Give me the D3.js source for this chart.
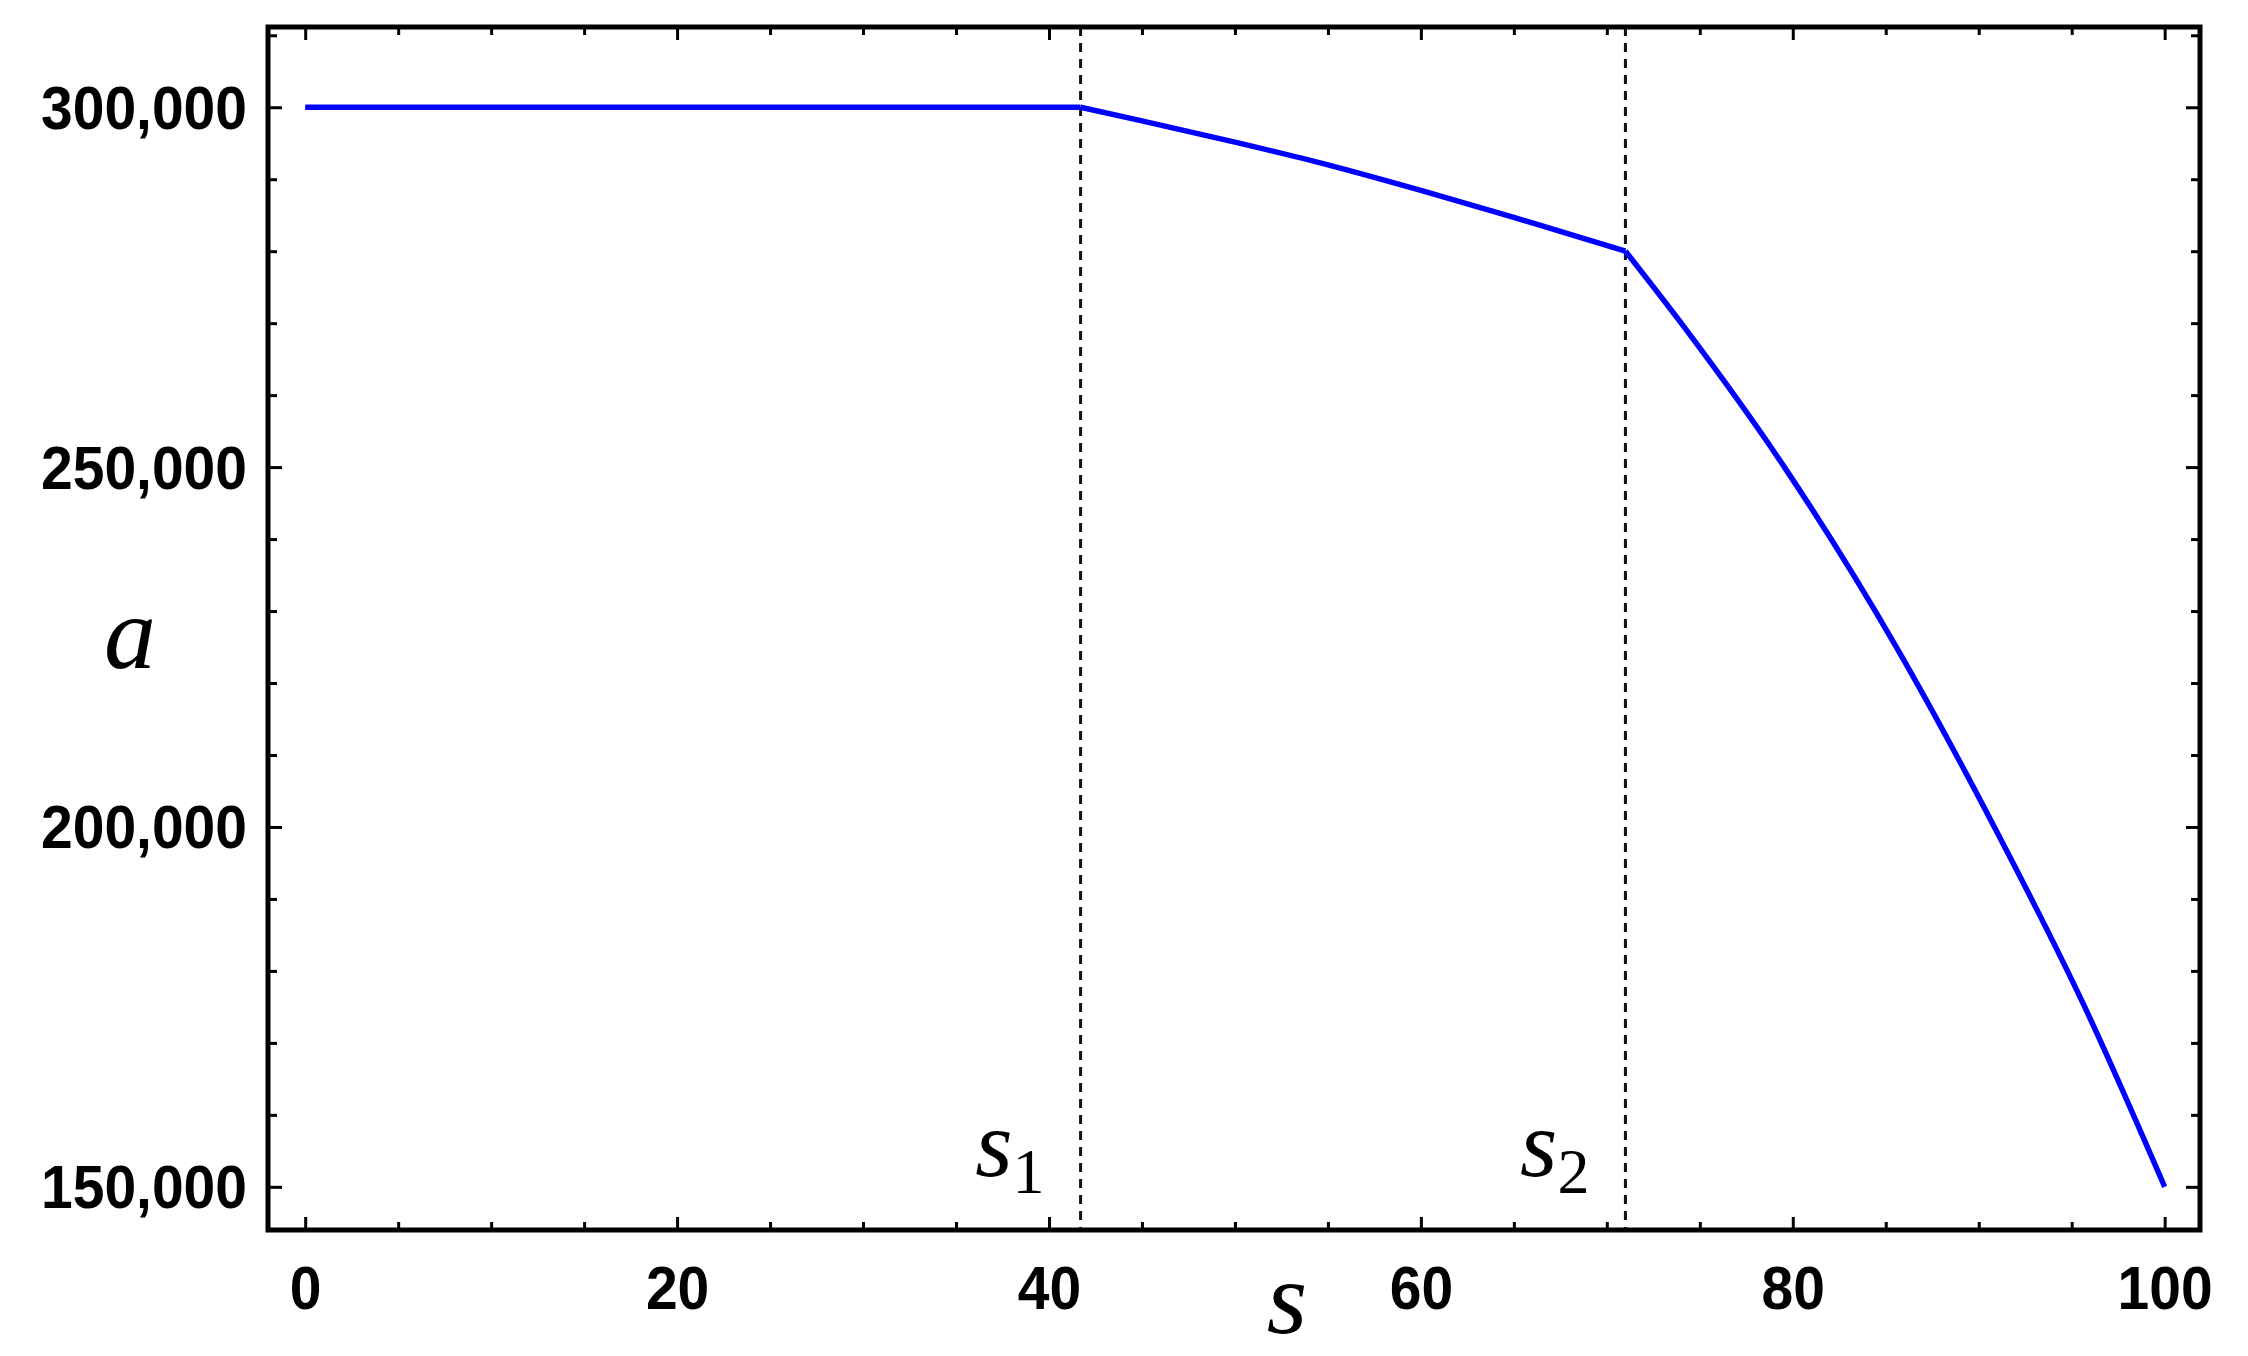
<!DOCTYPE html>
<html>
<head>
<meta charset="utf-8">
<script src="https://cdn.jsdelivr.net/npm/d3@7"></script>
<style>
  html, body { margin: 0; padding: 0; background: #ffffff; }
  svg { display: block; }
</style>
</head>
<body>
<div id="chart"></div>
<script>
// ---------- data ----------
const sFlat = [0, 41.7];
const aFlat = [300000, 300000];
const sMid  = [41.7, 45, 50, 55, 60, 65, 71];
const aMid  = [300000, 298100, 295150, 292000, 288450, 284700, 280000];
const sHigh = [71, 74, 79.55, 85.57, 90.84, 95.7, 100];
const aHigh = [280000, 270000, 250000, 225000, 200000, 175000, 150000];
const thresholds = [41.7, 71];
const thresholdLabels = ["1", "2"];
const xTicks = [0, 20, 40, 60, 80, 100];
const xTickLabels = ["0", "20", "40", "60", "80", "100"];
const yTicks = [150000, 200000, 250000, 300000];
const yTickLabels = ["150,000", "200,000", "250,000", "300,000"];
const xMinor = [5,10,15,25,30,35,45,50,55,65,70,75,85,90,95];
const yMinor = [160000,170000,180000,190000,210000,220000,230000,240000,260000,270000,280000,290000,310000];

// ---------- layout ----------
const W = 2248, H = 1356;
const L = 268, R = 2200, T = 27, B = 1230;

const svg = d3.select("#chart").append("svg")
  .attr("width", W).attr("height", H)
  .attr("viewBox", `0 0 ${W} ${H}`);

const x = d3.scaleLinear().domain([-2, 101.9]).range([L, R]);
const y = d3.scaleLinear().domain([144000, 311150]).range([B, T]);

const tickFont = "'Liberation Sans', Arial, sans-serif";
const serif = "'Liberation Serif', 'Times New Roman', serif";

function styleAxis(g) {
  g.select(".domain").remove();
  g.selectAll(".tick line").attr("stroke", "#000").attr("stroke-width", 3);
  g.selectAll(".tick text")
    .attr("fill", "#000")
    .style("font-family", tickFont)
    .style("font-weight", "bold")
    .style("font-size", "57px");
}

// bottom major with labels
const gxb = svg.append("g").attr("transform", `translate(0,${B})`)
  .call(d3.axisBottom(x).tickValues(xTicks)
    .tickFormat((d, i) => xTickLabels[i]).tickSize(-13).tickPadding(33));
styleAxis(gxb);
gxb.selectAll(".tick text").attr("transform", "scale(1,1.08)");
// bottom minor
const gxbm = svg.append("g").attr("transform", `translate(0,${B})`)
  .call(d3.axisBottom(x).tickValues(xMinor).tickFormat("").tickSize(-8));
styleAxis(gxbm);
// top ticks
const gxt = svg.append("g").attr("transform", `translate(0,${T})`)
  .call(d3.axisTop(x).tickValues(xTicks).tickFormat("").tickSize(-13));
styleAxis(gxt);
const gxtm = svg.append("g").attr("transform", `translate(0,${T})`)
  .call(d3.axisTop(x).tickValues(xMinor).tickFormat("").tickSize(-8));
styleAxis(gxtm);

// left major with labels
const gyl = svg.append("g").attr("transform", `translate(${L},0)`)
  .call(d3.axisLeft(y).tickValues(yTicks)
    .tickFormat((d, i) => yTickLabels[i]).tickSize(-14).tickPadding(21));
styleAxis(gyl);
gyl.selectAll(".tick text").attr("dy", "0.34em").attr("transform", "scale(1,1.08)");
const gylm = svg.append("g").attr("transform", `translate(${L},0)`)
  .call(d3.axisLeft(y).tickValues(yMinor).tickFormat("").tickSize(-9));
styleAxis(gylm);
// right ticks
const gyr = svg.append("g").attr("transform", `translate(${R},0)`)
  .call(d3.axisRight(y).tickValues(yTicks).tickFormat("").tickSize(-14));
styleAxis(gyr);
const gyrm = svg.append("g").attr("transform", `translate(${R},0)`)
  .call(d3.axisRight(y).tickValues(yMinor).tickFormat("").tickSize(-9));
styleAxis(gyrm);

// threshold dashed lines
svg.append("g").selectAll("line").data(thresholds).join("line")
  .attr("x1", d => x(d)).attr("x2", d => x(d))
  .attr("y1", T).attr("y2", B)
  .attr("stroke", "#111").attr("stroke-width", 3)
  .attr("stroke-dasharray", "9,7");

// threshold labels s1, s2
const thr = svg.append("g").selectAll("text").data(thresholds).join("text")
  .attr("x", d => x(d) - 36)
  .attr("y", 1176)
  .attr("text-anchor", "end")
  .style("font-family", serif)
  .attr("fill", "#000");
thr.append("tspan")
  .style("font-style", "italic").style("font-size", "96px")
  .text("s");
thr.append("tspan")
  .style("font-size", "64px")
  .attr("dy", 17)
  .text((d, i) => thresholdLabels[i]);

// the curve, three pieces
const line = d3.line()
  .x(d => x(d[0])).y(d => y(d[1]))
  .curve(d3.curveMonotoneX);
const pieces = [
  d3.zip(sFlat, aFlat),
  d3.zip(sMid, aMid),
  d3.zip(sHigh, aHigh)
];
svg.append("g").selectAll("path").data(pieces).join("path")
  .attr("d", line)
  .attr("fill", "none")
  .attr("stroke", "#0000ff")
  .attr("stroke-width", 5.5)
  .attr("stroke-linejoin", "round");

// frame
svg.append("rect")
  .attr("x", L).attr("y", T)
  .attr("width", R - L).attr("height", B - T)
  .attr("fill", "none").attr("stroke", "#000").attr("stroke-width", 5);

// axis labels
svg.append("text")
  .attr("x", 130).attr("y", 668)
  .attr("text-anchor", "middle")
  .style("font-family", serif).style("font-style", "italic")
  .style("font-size", "104px")
  .attr("fill", "#000")
  .text("a");
svg.append("text")
  .attr("x", 1287).attr("y", 1333)
  .attr("text-anchor", "middle")
  .style("font-family", serif).style("font-style", "italic")
  .style("font-size", "104px")
  .attr("fill", "#000")
  .text("s");
</script>
</body>
</html>
